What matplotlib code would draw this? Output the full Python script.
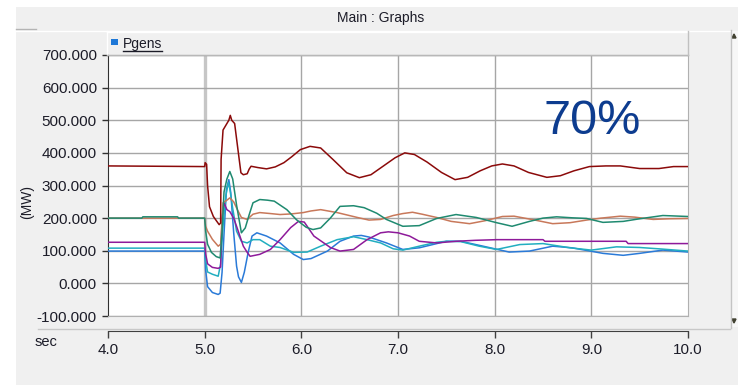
import matplotlib
matplotlib.use('Agg')
import matplotlib.pyplot as plt
from matplotlib.patches import Rectangle, Polygon
from matplotlib.lines import Line2D

W, H = 738, 385

# ---- data (time in s, power in MW) ----
t_red = [4.0, 5.0, 5.005, 5.02, 5.03, 5.05, 5.09, 5.15, 5.165, 5.17, 5.19, 5.22, 5.25, 5.265,
         5.28, 5.31, 5.34, 5.375, 5.40, 5.44, 5.46, 5.48, 5.55, 5.64, 5.73, 5.82, 5.9, 5.99,
         6.09, 6.2, 6.33, 6.47, 6.6, 6.72, 6.85, 6.97, 7.07, 7.17, 7.3, 7.45, 7.59, 7.72,
         7.85, 7.97, 8.08, 8.2, 8.35, 8.54, 8.68, 8.82, 8.98, 9.15, 9.3, 9.5, 9.7, 9.85, 10.0]
p_red = [360, 358, 370, 365, 300, 235, 205, 180, 185, 380, 470, 485, 500, 515,
         500, 490, 420, 339, 333, 336, 350, 359, 355, 351, 357, 370, 388, 410,
         420, 415, 379, 339, 324, 333, 360, 385, 400, 395, 372, 340, 318, 325,
         345, 360, 366, 360, 340, 325, 330, 345, 358, 360, 360, 352, 352, 358, 358]

t_salmon = [4.0, 5.0, 5.01, 5.03, 5.08, 5.14, 5.165, 5.19, 5.23, 5.26, 5.3, 5.34, 5.38, 5.44,
            5.5, 5.57, 5.68, 5.78, 5.9, 6.02, 6.1, 6.2, 6.37, 6.58, 6.7, 6.82, 6.95, 7.05,
            7.15, 7.25, 7.4, 7.55, 7.74, 7.9, 8.08, 8.2, 8.4, 8.6, 8.78, 8.95, 9.1, 9.3,
            9.45, 9.64, 9.8, 10.0]
p_salmon = [200, 200, 175, 160, 135, 114, 120, 247, 255, 262, 250, 225, 202, 196,
            212, 217, 214, 211, 213, 217, 222, 226, 217, 202, 194, 196, 208, 214,
            218, 212, 202, 190, 183, 192, 205, 206, 195, 183, 186, 194, 200, 206,
            203, 196, 198, 199]

t_green = [4.0, 4.35, 4.36, 4.72, 4.73, 5.0, 5.01, 5.03, 5.07, 5.12, 5.16, 5.18, 5.2, 5.23,
           5.26, 5.29, 5.33, 5.38, 5.42, 5.46, 5.5, 5.57, 5.65, 5.72, 5.85, 5.95, 6.05,
           6.12, 6.2, 6.3, 6.4, 6.54, 6.65, 6.78, 6.88, 7.05, 7.22, 7.4, 7.6, 7.81, 8.02,
           8.18, 8.36, 8.5, 8.64, 8.8, 8.95, 9.12, 9.33, 9.5, 9.74, 10.0]
p_green = [200, 200, 204, 204, 200, 200, 160, 120, 95, 82, 78, 160, 280, 320,
           343, 320, 240, 155, 170, 210, 247, 257, 255, 252, 226, 195, 172,
           165, 170, 200, 236, 238, 232, 215, 196, 175, 177, 199, 211, 202, 186,
           175, 190, 200, 204, 201, 199, 187, 190, 198, 208, 205]

t_purple = [4.0, 5.0, 5.01, 5.03, 5.08, 5.14, 5.165, 5.18, 5.2, 5.23, 5.26, 5.3, 5.33, 5.37,
            5.4, 5.44, 5.47, 5.52, 5.57, 5.68, 5.78, 5.89, 5.97, 6.03, 6.13, 6.3, 6.4,
            6.54, 6.68, 6.82, 6.9, 7.0, 7.12, 7.22, 7.4, 7.6, 7.8, 8.02, 8.5, 8.52,
            9.36, 9.38, 10.0]
p_purple = [126, 126, 90, 60, 49, 46, 50, 200, 247, 226, 220, 200, 175, 140,
            114, 95, 83, 86, 89, 104, 134, 171, 190, 188, 145, 110, 99,
            104, 134, 155, 158, 155, 145, 129, 124, 129, 132, 134, 134, 129,
            129, 122, 122]

t_cyan = [4.0, 5.0, 5.01, 5.03, 5.08, 5.14, 5.165, 5.19, 5.22, 5.245, 5.26, 5.29, 5.33,
          5.38, 5.44, 5.5, 5.57, 5.68, 5.78, 5.92, 6.06, 6.2, 6.37, 6.54, 6.68, 6.82,
          6.95, 7.05, 7.22, 7.4, 7.5, 7.65, 7.84, 8.02, 8.26, 8.5, 8.78, 9.0, 9.26,
          9.5, 9.74, 10.0]
p_cyan = [108, 108, 70, 35, 28, 22, 60, 175, 270, 309, 290, 230, 160,
          129, 124, 134, 134, 114, 110, 95, 96, 114, 134, 143, 134, 124,
          106, 102, 114, 126, 129, 128, 114, 104, 119, 122, 109, 102, 112,
          110, 105, 99]

t_blue = [4.0, 5.0, 5.01, 5.03, 5.08, 5.14, 5.16, 5.18, 5.2, 5.225, 5.25, 5.27, 5.3, 5.33,
          5.35, 5.38, 5.41, 5.45, 5.49, 5.54, 5.64, 5.78, 5.92, 6.02, 6.1, 6.27, 6.4,
          6.54, 6.62, 6.7, 6.88, 7.05, 7.22, 7.5, 7.65, 7.88, 8.15, 8.36, 8.6, 8.8,
          9.12, 9.33, 9.5, 9.74, 10.0]
p_blue = [99, 99, 40, -10, -28, -34, -30, 34, 150, 287, 318, 278, 156, 53,
          20, 3, 34, 95, 145, 155, 145, 124, 89, 73, 76, 99, 129,
          145, 147, 142, 124, 104, 109, 129, 129, 114, 96, 99, 114, 109,
          92, 86, 92, 102, 96]

x_ticks = [4.0, 5.0, 6.0, 7.0, 8.0, 9.0, 10.0]
y_ticks = [-100, 0, 100, 200, 300, 400, 500, 600, 700]
event_time = 5.0

FONT = 'Liberation Sans'
TXT = '#1c1c28'


def fx(x):
    return x / W


def fy(y):
    return 1 - y / H


def rect(fig, x0, y0, x1, y1, **kw):
    fig.add_artist(Rectangle((fx(x0), fy(y1)), fx(x1) - fx(x0), fy(y0) - fy(y1),
                             transform=fig.transFigure, **kw))


def hline(fig, x0, x1, y, **kw):
    fig.add_artist(Line2D([fx(x0), fx(x1)], [fy(y), fy(y)], transform=fig.transFigure, **kw))


def vline(fig, x, y0, y1, **kw):
    fig.add_artist(Line2D([fx(x), fx(x)], [fy(y0), fy(y1)], transform=fig.transFigure, **kw))


fig = plt.figure(figsize=(W / 100, H / 100), dpi=100, facecolor='white')

# window chrome
rect(fig, 16, 7, W, H, facecolor='#f0f0f0', edgecolor='none', zorder=0)
hline(fig, 16, 36, 28.5, color='#b4b4b4', lw=1)
hline(fig, 16, 730, 30.5, color='white', lw=1)
vline(fig, 730.5, 30, 328, color='#c4c4c4', lw=1)
hline(fig, 38, 730, 328.5, color='#c8c8c8', lw=1)
rect(fig, 732, 31, W, 327, facecolor='#f7f7f7', edgecolor='none', zorder=0)
fig.add_artist(Polygon([[fx(732), fy(38)], [fx(736), fy(38)], [fx(734), fy(34)]],
                       transform=fig.transFigure, color='#404030'))
fig.add_artist(Polygon([[fx(732), fy(319)], [fx(736), fy(319)], [fx(734), fy(323)]],
                       transform=fig.transFigure, color='#404030'))
fig.text(fx(381), fy(18), 'Main : Graphs', ha='center', va='center',
         fontsize=10, family=FONT, color=TXT)

# legend strip
rect(fig, 107, 31, 687, 54, facecolor='#f0f0f0', edgecolor='none', zorder=1)
hline(fig, 107, 687, 31.5, color='white', lw=1)
vline(fig, 107.5, 31, 54, color='white', lw=1)
hline(fig, 107, 688, 54.5, color='#b8b8b8', lw=1)
vline(fig, 687.5, 31, 55, color='#c0c0c0', lw=1)
rect(fig, 111, 39, 118, 45, facecolor='#1e78d7', edgecolor='none', zorder=2)
fig.text(fx(123), fy(44), 'Pgens', ha='left', va='center', fontsize=10,
         family=FONT, color=TXT)
hline(fig, 123, 162, 50.5, color=TXT, lw=1)

# main plot
ax = fig.add_axes([fx(108), fy(316), fx(688) - fx(108), fy(55) - fy(316)])
ax.set_facecolor('white')
ax.set_xlim(4.0, 10.0)
ax.set_ylim(-100, 700)
ax.set_xticks(x_ticks)
ax.set_yticks(y_ticks)
ax.set_yticklabels(['%.3f' % v for v in y_ticks], family=FONT, fontsize=11, color=TXT)
ax.tick_params(axis='x', bottom=False, labelbottom=False)
ax.tick_params(axis='y', direction='out', length=4, width=1, color='#303030', pad=4)
ax.grid(True, axis='y', color='#a6a6a6', lw=1)
for xv in x_ticks[1:-1]:
    if xv != event_time:
        ax.axvline(xv, color='#a6a6a6', lw=1, zorder=1)
ax.axvline(event_time, color='#c6c6c6', lw=2.4, zorder=1)
ax.spines['left'].set_color('#303030')
for s in ['top', 'right', 'bottom']:
    ax.spines[s].set_color('#b0b0b0')

ax.plot(t_blue, p_blue, color='#2a7ad8', lw=1.1, zorder=3)
ax.plot(t_cyan, p_cyan, color='#22aec0', lw=1.1, zorder=3)
ax.plot(t_purple, p_purple, color='#8e1a9a', lw=1.1, zorder=3)
ax.plot(t_salmon, p_salmon, color='#c8785a', lw=1.1, zorder=3)
ax.plot(t_green, p_green, color='#1f8a70', lw=1.1, zorder=3)
ax.plot(t_red, p_red, color='#8b0a0a', lw=1.1, zorder=3)

ax.text(0.835, 0.745, '70%', transform=ax.transAxes, ha='center', va='center',
        fontsize=35, family=FONT, color='#0d3c8f')

fig.text(fx(27), fy(202), '(MW)', rotation=90, ha='center', va='center',
         fontsize=10, family=FONT, color=TXT)

# time ruler
axr = fig.add_axes([fx(108), fy(331), fx(688) - fx(108), 0.0001])
axr.set_xlim(4.0, 10.0)
axr.set_xticks(x_ticks)
axr.set_xticklabels(['%.1f' % v for v in x_ticks], family=FONT, fontsize=11, color=TXT)
axr.set_yticks([])
axr.patch.set_alpha(0)
for s in ['top', 'right', 'left']:
    axr.spines[s].set_visible(False)
axr.spines['bottom'].set_color('#404040')
axr.tick_params(axis='x', direction='out', length=5, width=1, color='#404040', pad=4)
fig.text(fx(46), fy(342), 'sec', ha='center', va='center', fontsize=10.5,
         family=FONT, color=TXT)

fig.savefig('out.png', dpi=100, facecolor=fig.get_facecolor())
